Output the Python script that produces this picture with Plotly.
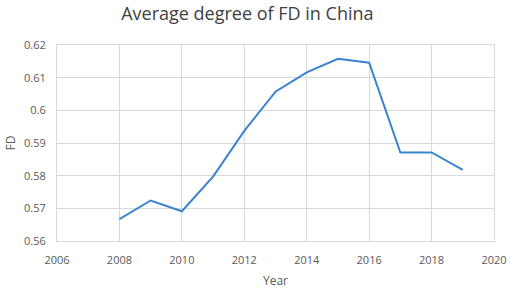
import plotly.graph_objects as go

years = [2008, 2009, 2010, 2011, 2012, 2013, 2014, 2015, 2016, 2017, 2018, 2019]
fd = [0.5667, 0.5724, 0.5691, 0.5797, 0.5937, 0.6057, 0.6116, 0.6158, 0.6146, 0.5871, 0.5871, 0.5818]

font = "Open Sans"
fig = go.Figure()
fig.add_trace(go.Scatter(x=years, y=fd, mode="lines",
                         line=dict(color="#3a84cf", width=2)))
fig.update_layout(
    width=510, height=289,
    margin=dict(l=57, r=16, t=45, b=48),
    paper_bgcolor="white", plot_bgcolor="white",
    showlegend=False,
    title=dict(text="Average degree of FD in China", x=0.485, xanchor="center",
               y=0.952, yanchor="middle",
               font=dict(family=font, size=18, color="#404040")),
    font=dict(family=font, size=11, color="#595959"),
)
fig.update_xaxes(range=[2006, 2020], dtick=2, showgrid=True, gridcolor="#d9d9d9",
                 showline=True, linecolor="#d9d9d9", mirror=True, zeroline=False,
                 ticks="outside", ticklen=9, tickcolor="rgba(0,0,0,0)", automargin=False,
                 title=dict(text="Year", standoff=11,
                            font=dict(family=font, size=12, color="#595959")))
fig.update_yaxes(range=[0.56, 0.62], dtick=0.01, tickformat="~r", showgrid=True,
                 gridcolor="#d9d9d9", showline=True, linecolor="#d9d9d9", mirror=True,
                 zeroline=False, ticks="outside", ticklen=8, tickcolor="rgba(0,0,0,0)",
                 automargin=False,
                 title=dict(text="FD", standoff=5,
                            font=dict(family=font, size=12, color="#595959")))
fig.write_html("out.html", config={"displayModeBar": False},
               post_script="document.body.style.margin='0';")
